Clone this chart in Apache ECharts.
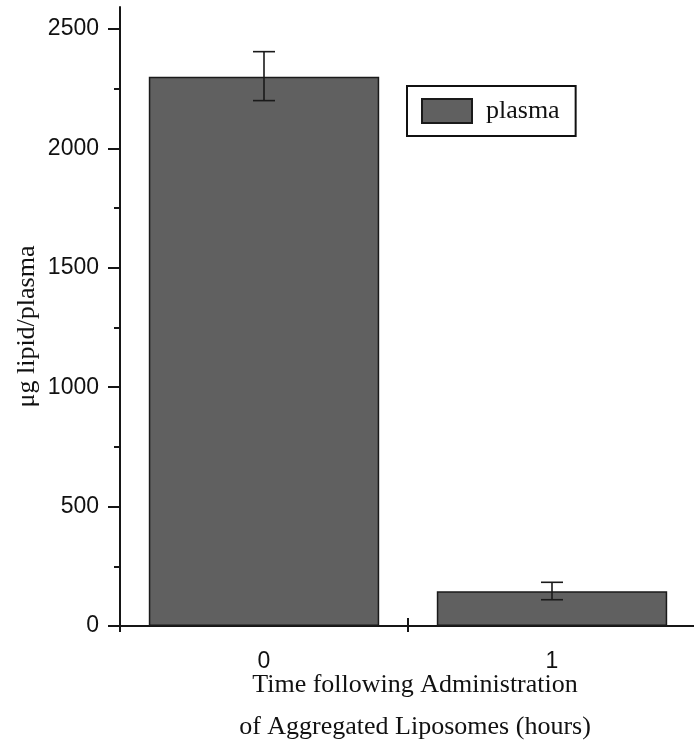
<!DOCTYPE html>
<html>
<head>
<meta charset="utf-8">
<script src="https://cdn.jsdelivr.net/npm/echarts@6/dist/echarts.min.js"></script>
<style>
  html, body { margin: 0; padding: 0; background: #fff; }
  #chart { width: 694px; height: 745px; }
</style>
</head>
<body>
<div id="chart"></div>
<script>
// Plasma lipid after administration of aggregated liposomes
const categories = ['0', '1'];
const plasmaMean = [2300, 145];
const errLow = [2200, 110];
const errHigh = [2405, 183];
const yMajorTicks = [0, 500, 1000, 1500, 2000, 2500];
const yMinorTicks = [250, 750, 1250, 1750, 2250];
const yMax = 2592;

const errData = categories.map((c, i) => [i, errLow[i], errHigh[i]]);

const chart = echarts.init(document.getElementById('chart'), null, { renderer: 'canvas' });

const axisColor = '#161616';
const serif = '"Liberation Serif", "Times New Roman", serif';
const sans = '"Liberation Sans", Arial, sans-serif';

chart.setOption({
  animation: false,
  backgroundColor: '#ffffff',
  grid: { left: 120, right: -2, top: 7, bottom: 119, outerBoundsMode: 'none', containLabel: false },
  legend: {
    left: 407,
    top: 86,
    orient: 'vertical',
    padding: [12, 16, 12, 14],
    borderColor: '#111',
    borderWidth: 2,
    itemWidth: 50,
    itemHeight: 24,
    data: [{ name: 'plasma', icon: 'rect' }],
    textStyle: { fontFamily: serif, fontSize: 26, color: '#111', padding: [0, 0, 0, 9] }
  },
  xAxis: [
    {
      type: 'category',
      data: categories,
      boundaryGap: true,
      position: 'bottom',
      axisLine: { lineStyle: { color: axisColor, width: 2 } },
      axisTick: { show: true, length: 6, lineStyle: { color: axisColor, width: 2 } },
      axisLabel: { fontFamily: sans, fontSize: 23, color: '#111', margin: 24 },
      name: 'Time following Administration\nof Aggregated Liposomes (hours)',
      nameLocation: 'middle',
      nameMoveOverlap: false,
      nameGap: 38,
      nameTextStyle: { fontFamily: serif, fontSize: 26, color: '#111', lineHeight: 42, padding: [0, 0, 0, 14] }
    },
    {
      type: 'category',
      data: categories,
      boundaryGap: true,
      position: 'bottom',
      axisLine: { show: false },
      axisTick: { show: true, inside: true, length: 8, lineStyle: { color: axisColor, width: 2 } },
      axisLabel: { show: false }
    }
  ],
  yAxis: [
    {
      type: 'value',
      min: 0,
      max: yMax,
      splitLine: { show: false },
      axisLine: { show: true, lineStyle: { color: axisColor, width: 2 } },
      axisTick: { show: true, length: 12, customValues: yMajorTicks, lineStyle: { color: axisColor, width: 2 } },
      axisLabel: {
        customValues: yMajorTicks,
        formatter: (v) => String(v),
        fontFamily: sans, fontSize: 23, color: '#111', margin: 21
      },
      name: 'μg lipid/plasma',
      nameLocation: 'middle',
      nameMoveOverlap: false,
      nameGap: 80,
      nameTextStyle: { fontFamily: serif, fontSize: 26, color: '#111', padding: [0, 20, 0, 0] }
    },
    {
      type: 'value',
      min: 0,
      max: yMax,
      position: 'left',
      splitLine: { show: false },
      axisLine: { show: false },
      axisTick: { show: true, length: 6, customValues: yMinorTicks, lineStyle: { color: axisColor, width: 2 } },
      axisLabel: { show: false }
    }
  ],
  series: [
    {
      name: 'plasma',
      type: 'bar',
      data: plasmaMean,
      barWidth: '80%',
      itemStyle: { color: '#606060', borderColor: '#1a1a1a', borderWidth: 1.5 }
    },
    {
      name: 'error',
      type: 'custom',
      data: errData,
      encode: { x: 0, y: [1, 2] },
      z: 5,
      renderItem: function (params, api) {
        const lo = api.coord([api.value(0), api.value(1)]);
        const hi = api.coord([api.value(0), api.value(2)]);
        const half = 11;
        const style = { stroke: '#1a1a1a', lineWidth: 1.6 };
        return {
          type: 'group',
          children: [
            { type: 'line', shape: { x1: lo[0], y1: lo[1], x2: hi[0], y2: hi[1] }, style: style },
            { type: 'line', shape: { x1: lo[0] - half, y1: lo[1], x2: lo[0] + half, y2: lo[1] }, style: style },
            { type: 'line', shape: { x1: hi[0] - half, y1: hi[1], x2: hi[0] + half, y2: hi[1] }, style: style }
          ]
        };
      }
    }
  ]
});
</script>
</body>
</html>
